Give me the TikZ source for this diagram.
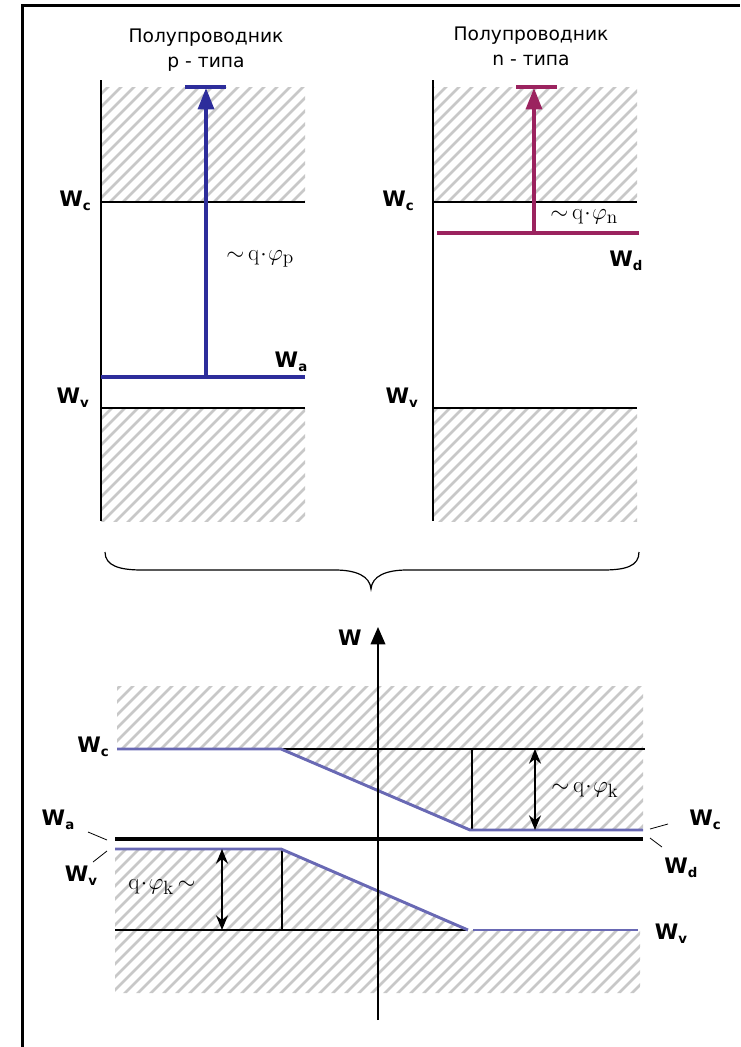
\documentclass[tikz,border=0pt]{standalone}
\usepackage[no-math]{fontspec}
\setmainfont{DejaVu Sans}
\usetikzlibrary{arrows.meta}
\definecolor{PBlue}{RGB}{45,45,155}
\definecolor{NRed}{RGB}{155,35,95}
\definecolor{BandBlue}{RGB}{105,105,180}
\definecolor{HatchGray}{RGB}{200,200,200}
\tikzset{
  hatch/.style={path picture={
    \foreach \i in {-1100,-1087,...,750}
      \draw[HatchGray,line width=1.9pt] (\i,1100) -- ++(1100,-1100);}},
  band/.style={draw=black,line width=1.1pt},
  axisline/.style={draw=black,line width=1.5pt},
  lvl/.style={font=\fontsize{16}{16}\selectfont\bfseries,inner sep=0pt},
  ttl/.style={align=center,font=\fontsize{14}{19}\selectfont,inner sep=0pt},
  phi/.style={font=\fontsize{19}{19}\selectfont,inner sep=0pt},
  edgeB/.style={draw=BandBlue,line width=2.2pt},
  dim/.style={draw=black,line width=1.1pt,{Stealth[length=11pt,width=9pt]}-{Stealth[length=11pt,width=9pt]}},
  lead/.style={draw=black,line width=0.6pt},
}
\newcommand{\Wlev}[1]{W\raisebox{-3pt}{\fontsize{10}{10}\selectfont#1}}

\begin{document}
\begin{tikzpicture}[x=0.75pt,y=-0.75pt]
\useasboundingbox (0,0) rectangle (740,1047);
\draw[line width=1.8pt] (22.5,1047) -- (22.5,5.5) -- (740,5.5);
% two separate semiconductors
\foreach \x in {101,433}{
  \path[hatch] (\x,87) rectangle (\x+204,202);
  \path[hatch] (\x,408) rectangle (\x+204,521);
  \draw[band] (\x,202) -- (\x+204,202);
  \draw[band] (\x,408) -- (\x+204,408);
  \draw[axisline] (\x,80) -- (\x,521);
}
\node[ttl] (tp) at (206,50) {Полупроводник\\p - типа};
\node[ttl] (tn) at (531,46) {Полупроводник\\n - типа};
% p-type: acceptor level
\draw[PBlue,line width=2.4pt] (101,377) -- (305,377);
\coordinate (pa) at (206,377);
\coordinate (pt) at (206,88);
\draw[PBlue,line width=2.5pt,-{Triangle[length=16pt,width=12pt]}] (pa) -- (pt);
\draw[PBlue,line width=2.5pt] (185,87) -- (226,87);
% n-type: donor level
\draw[NRed,line width=2.4pt] (437,233) -- (639,233);
\coordinate (na) at (534,233);
\coordinate (nt) at (534,88);
\draw[NRed,line width=2.5pt,-{Triangle[length=16pt,width=12pt]}] (na) -- (nt);
\draw[NRed,line width=2.5pt] (516,87) -- (557,87);
\node[lvl,anchor=east] (pc) at (91,201) {\Wlev{c}};
\node[lvl,anchor=east] (pv) at (89,398) {\Wlev{v}};
\node[lvl] (pwa) at (291,362) {\Wlev{a}};
\node[phi,anchor=west] (pphi) at (226,259) {${\sim}\,\mathrm{q}\!\cdot\!\varphi_{\mathrm{p}}$};
\node[lvl,anchor=east] (nc) at (414,201) {\Wlev{c}};
\node[lvl,anchor=east] (nv) at (418,398) {\Wlev{v}};
\node[lvl] (nwd) at (626,261) {\Wlev{d}};
\node[phi,anchor=west] (nphi) at (550,217) {${\sim}\,\mathrm{q}\!\cdot\!\varphi_{\mathrm{n}}$};
% brace
\draw[line width=0.9pt] (105,552) .. controls (105,566) and (120,570) .. (142,570) -- (335,570)
  .. controls (356,570) and (370,576) .. (371,589) .. controls (372,576) and (386,570) .. (407,570)
  -- (603,570) .. controls (626,570) and (639,566) .. (639,552);
% p-n junction
\path[hatch] (117,686) -- (643,686) -- (643,830) -- (470,830) -- (281,749) -- (117,749) -- cycle;
\path[hatch] (115,849) -- (281,849) -- (467,930) -- (640,930) -- (640,993) -- (115,993) -- cycle;
\draw[band] (281,749) -- (645,749);
\draw[band] (472,749) -- (472,830);
\draw[band] (115,930) -- (466,930);
\draw[band] (282,849) -- (282,930);
\draw[line width=2.4pt] (115,839) -- (643,839);
\draw[edgeB] (117,749) -- (281,749) -- (470,830) -- (643,830);
\draw[edgeB] (115,849) -- (281,849) -- (468,930);
\draw[edgeB] (473,930) -- (638,930);
\coordinate (wb) at (378,1020);
\coordinate (wt) at (378,627);
\draw[line width=1.1pt,-{Triangle[length=13pt,width=11pt]}] (wb) -- (wt);
\node[lvl] (w) at (350,638) {W};
\coordinate (ka) at (535,749);
\coordinate (kb) at (535,830);
\draw[dim] (ka) -- (kb);
\coordinate (la) at (222,849);
\coordinate (lb) at (222,930);
\draw[dim] (la) -- (lb);
\node[phi,anchor=west] (kphi) at (551,790) {${\sim}\,\mathrm{q}\!\cdot\!\varphi_{\mathrm{k}}$};
\node[phi] (lphi) at (162,887) {$\mathrm{q}\!\cdot\!\varphi_{\mathrm{k}}\,{\sim}$};
\node[lvl,anchor=east] (jc) at (109,747) {\Wlev{c}};
\node[lvl] (ja) at (58,820) {\Wlev{a}};
\node[lvl] (jv) at (81,876) {\Wlev{v}};
\node[lvl] (jc2) at (705,820) {\Wlev{c}};
\node[lvl] (jd) at (681,868) {\Wlev{d}};
\node[lvl] (jv2) at (671,934) {\Wlev{v}};
\coordinate (ea) at (107,840);
\coordinate (ev) at (107,851);
\coordinate (ec) at (650,829);
\coordinate (ed) at (650,838);
\draw[lead] (88,832) -- (ea);
\draw[lead] (93,862) -- (ev);
\draw[lead] (668,824) -- (ec);
\draw[lead] (662,847) -- (ed);
\end{tikzpicture}
\end{document}
